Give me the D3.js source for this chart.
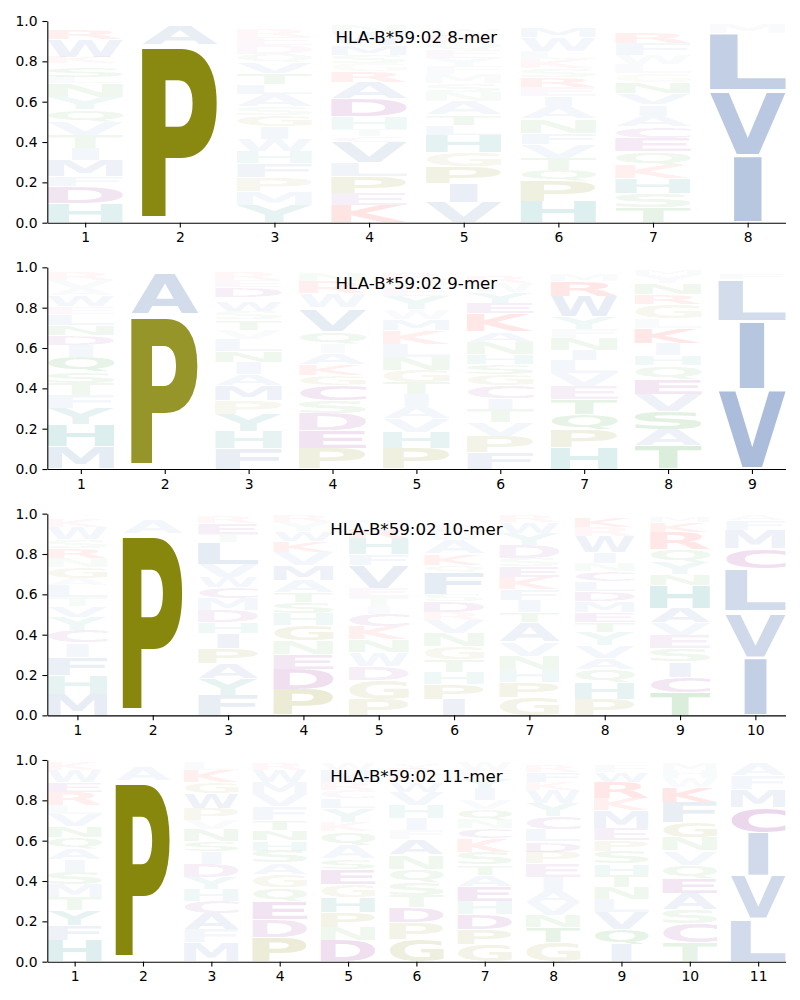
<!DOCTYPE html>
<html>
<head>
<meta charset="utf-8">
<script src="https://cdn.jsdelivr.net/npm/d3@7"></script>
<style>
  body { margin: 0; background: #fff; }
  text { font-family: "DejaVu Sans", sans-serif; }
</style>
</head>
<body>
<svg id="chart" width="800" height="1000"></svg>
<script>
const allele = "HLA-B*59:02";
const lengths = [8, 9, 10, 11];
const yTicks = [0, 0.2, 0.4, 0.6, 0.8, 1.0];

// residue stacks per position, bottom to top: [residue, height in %]
const mer8 = [
  [["H",9.6],["D",8.4],["F",5],["M",8],["I",6],["T",6.5],["V",6.5],["Q",6],["Y",6],["N",7],["L",3],["S",5],["E",2],["K",3],["W",9],["R",5],["G",2]],
  [["P",88],["A",9.7],["L",1],["S",1]],
  [["Y",8.5],["M",7],["P",7],["F",7],["H",6],["W",6],["I",6],["G",5.5],["S",4.5],["A",6],["L",5],["T",5.5],["V",5.5],["Q",4],["D",4.5],["E",4],["R",4],["K",2]],
  [["K",8.5],["E",6],["P",8.5],["L",7],["V",10],["C",3],["T",3.5],["H",6],["D",9],["A",8],["R",5.5],["G",4],["S",4],["M",5],["W",6.5],["N",3],["Q",1.5]],
  [["V",10],["I",9.5],["P",8.5],["G",7],["H",8.5],["L",5],["T",5],["A",6.5],["N",4.5],["S",4.5],["M",4.5],["F",4],["Y",4],["E",4],["Q",4],["R",3],["W",3],["K",2]],
  [["H",10.5],["P",10],["Q",5.5],["T",6],["V",7],["F",5.5],["N",7],["A",6],["I",5],["E",4.5],["R",5],["S",4.5],["K",4.5],["L",4],["W",7],["M",5]],
  [["T",7.5],["S",7],["H",7.5],["K",6.5],["Q",7],["E",6.5],["C",5.5],["A",5.5],["I",5.5],["V",5.5],["N",5.5],["G",4.5],["L",4.5],["W",4.5],["F",6],["R",5.5],["M",2]],
  [["I",33.5],["V",32],["L",28.5],["M",4.5],["F",1.5]]
];

const mer9 = [
  [["M",11],["H",11],["Y",8],["F",6.5],["T",6],["S",5.5],["Q",7.5],["I",6],["D",5],["N",5],["L",5.5],["E",3.5],["W",5.5],["A",3.5],["V",4],["R",4],["G",2]],
  [["P",76.6],["A",20.3],["V",1.5],["L",1.5]],
  [["F",10],["H",8.5],["Y",8.5],["P",7],["M",7.5],["A",5.5],["I",6],["N",5.5],["L",6],["V",4.5],["T",5],["S",4],["W",5],["Q",2],["D",5],["E",3.5],["R",4],["K",2]],
  [["P",10],["E",9],["D",8.5],["S",6.5],["C",7.5],["G",5],["K",5.5],["A",5.5],["I",4.5],["Q",6],["V",11],["F",1],["W",7],["R",6],["N",4],["H",2]],
  [["P",10],["H",8],["V",7],["A",6],["I",6],["T",6],["G",6],["N",6.5],["L",6.5],["K",7],["M",5.5],["W",4.5],["Y",6.5],["E",4],["Q",4],["R",3],["S",2]],
  [["F",8],["P",8],["V",7],["T",6.5],["I",5.5],["C",6.5],["G",5.5],["S",5],["H",5],["N",6],["A",5],["K",9],["E",5],["Y",5.5],["W",4.5],["R",3],["M",2],["L",1.5]],
  [["H",10.5],["P",9],["Q",7.5],["T",7.5],["E",6.5],["V",6.5],["L",6.5],["I",5],["N",6],["F",4.5],["Y",6],["W",10],["R",7.5],["M",3],["K",2]],
  [["T",11.5],["A",8],["S",9],["V",8.5],["E",7.5],["Q",7],["H",5],["I",6],["K",7.5],["L",4.5],["G",7],["R",5],["N",5.5],["Y",4],["M",2.5]],
  [["V",39.5],["I",34],["L",20.5],["F",2.5],["Y",2],["M",1.5]]
];

const mer10 = [
  [["M",10.5],["H",9.5],["F",9],["I",7],["C",6],["Y",6.5],["V",5.5],["T",4.5],["L",6],["A",3.5],["G",5.5],["N",4.5],["R",5],["S",4.5],["W",6],["K",4],["E",2]],
  [["P",90],["A",7],["S",1.5],["V",1.5]],
  [["F",10],["Y",8],["A",7.5],["P",7.5],["I",7.5],["H",5.5],["D",6],["M",6],["C",5.3],["W",5.2],["V",6.5],["L",11],["T",4],["E",5.5],["R",3.5]],
  [["P",13],["D",10],["E",7.5],["N",6.5],["G",7.5],["H",6],["S",5.5],["T",5],["A",6],["M",7.5],["V",6.5],["K",5.5],["W",5],["Y",4.5],["R",3]],
  [["P",8],["G",9.5],["D",7],["W",7],["N",6],["K",6.5],["C",6],["I",4],["T",4.5],["E",4.5],["V",11.5],["F",5.5],["H",8],["R",5],["M",4],["S",2]],
  [["I",8],["P",7.5],["H",6],["T",6],["G",6.5],["N",6.5],["V",6.5],["R",4],["D",5.5],["S",3.5],["F",11],["Q",3.5],["K",5.5],["A",7],["W",4],["E",3],["M",2],["L",2],["Y",1.5]],
  [["G",9],["P",7.5],["H",6.5],["N",6.5],["V",7],["A",9.5],["T",5],["I",6],["F",5.5],["K",6],["E",5.5],["S",4],["D",6.5],["Y",6],["W",5.5],["R",3]],
  [["P",8],["H",8],["Q",7],["A",5.5],["V",6],["Y",6.5],["T",5],["E",5],["M",5.5],["D",5],["L",5],["C",5],["N",4],["I",5.5],["W",8],["R",4.5],["K",5]],
  [["T",11.5],["C",7.5],["I",7.5],["S",6.5],["E",6.5],["V",6.3],["A",7.2],["H",11.5],["N",5.5],["Y",6],["Q",6.5],["R",8.5],["K",5],["M",2.5],["L",1]],
  [["I",28.5],["V",22],["T",1],["L",21],["C",10],["M",9.5],["F",5],["A",2.5]]
];

const mer11 = [
  [["H",10.5],["F",7.5],["Y",7.5],["T",6.5],["M",6.5],["S",6],["I",6],["A",5.5],["Q",5.5],["N",5.5],["V",6],["L",4.5],["R",6.5],["E",5],["W",6],["K",4]],
  [["P",90],["A",7],["S",1.5],["V",1.5]],
  [["M",9.6],["F",6.4],["A",8],["C",6],["H",6],["Y",6],["D",6.5],["I",6],["S",5],["N",6],["V",4.5],["P",6],["W",7.5],["G",5.5],["K",6],["L",4]],
  [["P",12],["D",9],["E",9],["Q",7],["G",6.5],["A",5.5],["S",6],["H",5],["N",5],["T",5],["F",7],["V",6],["M",6],["W",6],["R",3.5],["K",1.5]],
  [["D",10.5],["N",6.5],["P",7.5],["H",7.5],["G",6.5],["E",7.5],["S",5],["A",6.5],["Q",7],["K",4.5],["Y",7],["L",5],["C",4],["R",4],["M",6],["W",3],["F",1.5]],
  [["G",11],["P",8.5],["D",7.5],["T",6],["S",6.5],["Q",6.5],["N",7],["A",7.5],["F",4.5],["I",6],["H",6.5],["V",6.5],["W",5],["K",3.5],["R",3],["Y",2.5],["M",1.5]],
  [["G",8.5],["P",7.5],["D",7.5],["H",6.5],["E",7.5],["A",5.5],["T",5],["S",6],["K",7],["C",5],["N",4.5],["Q",5],["V",4.5],["I",6],["Y",5],["F",4],["W",4]],
  [["G",9.5],["T",7.5],["N",6],["V",6.5],["A",6],["I",6.5],["E",6.5],["P",6],["D",5],["L",6],["C",6.5],["Y",6.5],["W",6.5],["K",4],["F",5],["R",3],["M",2]],
  [["I",8.5],["Q",7.5],["V",8.5],["L",6.5],["N",6],["T",6],["H",5.5],["S",6],["P",5.5],["E",6],["M",9],["K",6],["R",8],["W",5],["F",3],["Y",2]],
  [["T",9.5],["C",9.5],["S",7],["A",8],["E",7.5],["Q",6.5],["V",7],["N",6.5],["G",7.5],["F",10],["K",7.5],["W",4.5],["H",4],["M",3],["L",1.5]],
  [["L",21],["V",21.5],["I",21.5],["C",12.5],["M",9],["F",7],["A",6]]
];

const panels = [mer8, mer9, mer10, mer11];

// residue colour groups
const colorGroups = [
  ["AVLIMFW", "#4c72b0"],
  ["PG", "#808000"],
  ["STNQ", "#008000"],
  ["KR", "#ff0000"],
  ["DEC", "#800080"],
  ["HY", "#008080"]
];
const colorOf = {};
colorGroups.forEach(([set, c]) => set.split("").forEach(aa => colorOf[aa] = c));

// layout
const left = 47.3, right = 785.5;
const firstTop = 21, panelStep = 246.33, panelH = 201.7;
const letterWidth = 0.8, vpad = 0.05;
const tickLen = 4.9, tickPad = 4.9;

// tight glyph boxes measured on a canvas
const ctx = document.createElement("canvas").getContext("2d");
ctx.font = "bold 100px 'DejaVu Sans'";
const boxes = {};
function glyphBox(ch) {
  if (!boxes[ch]) {
    const m = ctx.measureText(ch);
    boxes[ch] = {
      l: m.actualBoundingBoxLeft, r: m.actualBoundingBoxRight,
      a: m.actualBoundingBoxAscent, d: m.actualBoundingBoxDescent
    };
  }
  return boxes[ch];
}
// narrow glyphs (I) are not stretched wider than an E would be
const boxE = glyphBox("E");
const widthE = boxE.l + boxE.r;

const svg = d3.select("#chart");

panels.forEach(function(cols, i) {
  var n = lengths[i];
  var top = firstTop + i * panelStep;

  var x = d3.scaleLinear().domain([0.6, n + 0.4]).range([left, right]);
  var y = d3.scaleLinear().domain([0, 1]).range([top + panelH, top]);

  // flatten the stacks into letter records
  var letters = [];
  cols.forEach(function(stack, j) {
    var base = 0;
    stack.forEach(function(d) {
      var h = d[1] / 100;
      letters.push({ aa: d[0], pos: j + 1, y0: base + h * vpad / 2, y1: base + h - h * vpad / 2, h: h });
      base += h;
    });
  });

  var g = svg.append("g").attr("class", "panel");

  g.append("g")
    .attr("class", "letters")
    .selectAll("text")
    .data(letters)
    .join("text")
    .text(d => d.aa)
    .attr("font-size", 100)
    .attr("font-weight", "bold")
    .attr("fill", d => colorOf[d.aa])
    .attr("fill-opacity", d => 1 - Math.pow(1 - d.h, 1.25))
    .attr("transform", function(d) {
      var b = glyphBox(d.aa);
      var w = b.l + b.r;
      var slotW = x(d.pos + letterWidth / 2) - x(d.pos - letterWidth / 2);
      var sx = Math.min(slotW / w, slotW / widthE);
      var x0 = x(d.pos) - sx * w / 2;
      var yt = y(d.y1), yb = y(d.y0);
      var sy = (yb - yt) / (b.a + b.d);
      return "translate(" + x0 + "," + yt + ") scale(" + sx + "," + sy + ") translate(" + b.l + "," + b.a + ")";
    });

  // axes
  var yAxis = d3.axisLeft(y)
    .tickValues(yTicks)
    .tickFormat(d3.format(".1f"))
    .tickSize(tickLen)
    .tickPadding(tickPad)
    .tickSizeOuter(0);

  var xAxis = d3.axisBottom(x)
    .tickValues(d3.range(1, n + 1))
    .tickFormat(d3.format("d"))
    .tickSize(tickLen)
    .tickPadding(tickPad)
    .tickSizeOuter(0);

  g.append("g")
    .attr("transform", "translate(" + left + ",0)")
    .call(yAxis);

  g.append("g")
    .attr("transform", "translate(0," + (top + panelH) + ")")
    .call(xAxis);

  g.selectAll(".domain, .tick line")
    .attr("stroke", "#000")
    .attr("stroke-width", 1.1);
  g.selectAll(".tick text")
    .attr("font-family", "DejaVu Sans")
    .attr("font-size", 13.9)
    .attr("fill", "#000");

  g.append("text")
    .attr("x", (left + right) / 2)
    .attr("y", top + 21.7)
    .attr("text-anchor", "middle")
    .attr("font-size", 16.67)
    .attr("fill", "#000")
    .text(allele + " " + n + "-mer");
});
</script>
</body>
</html>
